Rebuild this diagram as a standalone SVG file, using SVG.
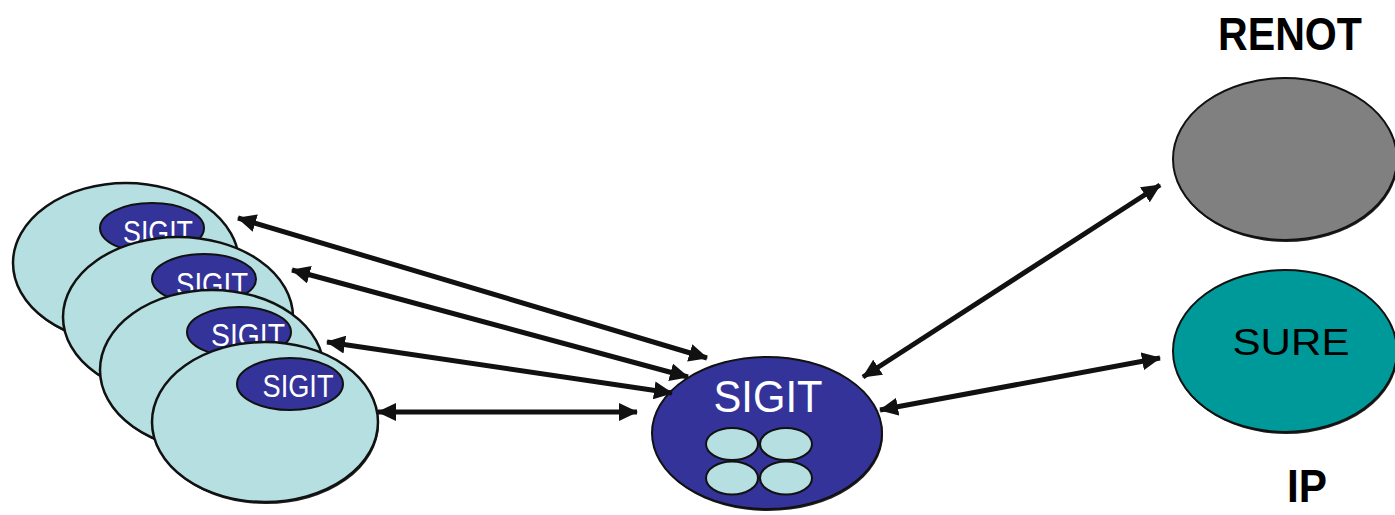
<svg xmlns="http://www.w3.org/2000/svg" width="1395" height="515" viewBox="0 0 1395 515">
<style>
.big{fill:#b5dfe0;stroke:#111;stroke-width:2.5}
.sig{fill:#333399;stroke:#111;stroke-width:2}
.mini{fill:#b5dfe0;stroke:#111;stroke-width:2}
.shadow{fill:#222}
.wt{fill:#fff;font-family:"Liberation Sans",Arial,sans-serif;text-anchor:middle}
.bt{fill:#000;font-family:"Liberation Sans",Arial,sans-serif;text-anchor:middle}
.conn line{stroke:#111;stroke-width:5;marker-start:url(#ah);marker-end:url(#ah)}
</style>
<defs>
<marker id="ah" markerUnits="userSpaceOnUse" markerWidth="20" markerHeight="18" refX="18" refY="9" orient="auto-start-reverse" viewBox="0 0 20 18">
<path d="M0,0 L19,9 L0,18 z" fill="#111"/>
</marker>
</defs>
<rect width="1395" height="515" fill="#fff"/>
<g id="node-left1">
<ellipse class="shadow" cx="127" cy="265" rx="113" ry="80"/>
<ellipse class="big" cx="126" cy="263" rx="113" ry="80"/>
<ellipse class="sig" cx="152" cy="228" rx="52" ry="25"/>
<text class="wt" x="158" y="243" font-size="31" textLength="70" lengthAdjust="spacingAndGlyphs">SIGIT</text>
</g>
<g id="node-left2">
<ellipse class="shadow" cx="179" cy="319" rx="115" ry="80"/>
<ellipse class="big" cx="178" cy="317" rx="115" ry="80"/>
<ellipse class="sig" cx="204" cy="279" rx="52" ry="25"/>
<text class="wt" x="212" y="295" font-size="31" textLength="72" lengthAdjust="spacingAndGlyphs">SIGIT</text>
</g>
<g id="node-left3">
<ellipse class="shadow" cx="213" cy="372" rx="112" ry="80"/>
<ellipse class="big" cx="212" cy="370" rx="112" ry="80"/>
<ellipse class="sig" cx="239" cy="332" rx="52" ry="25"/>
<text class="wt" x="248" y="346" font-size="31" textLength="74" lengthAdjust="spacingAndGlyphs">SIGIT</text>
</g>
<g id="node-left4">
<ellipse class="shadow" cx="266" cy="424" rx="113" ry="80"/>
<ellipse class="big" cx="265" cy="422" rx="113" ry="80"/>
<ellipse class="sig" cx="290" cy="384" rx="53" ry="26"/>
<text class="wt" x="298" y="397" font-size="31" textLength="71" lengthAdjust="spacingAndGlyphs">SIGIT</text>
</g>
<g id="node-center">
<ellipse class="shadow" cx="768" cy="435" rx="115" ry="76"/>
<ellipse class="sig" cx="767" cy="433" rx="115" ry="76"/>
<text class="wt" x="768" y="412" font-size="44" textLength="109" lengthAdjust="spacingAndGlyphs">SIGIT</text>
<ellipse class="mini" cx="732" cy="444" rx="26" ry="16"/>
<ellipse class="mini" cx="786" cy="444" rx="26" ry="16"/>
<ellipse class="mini" cx="732" cy="478" rx="26" ry="16.5"/>
<ellipse class="mini" cx="786" cy="478" rx="26" ry="16.5"/>
</g>
<g id="node-renot">
<text class="bt" x="1290" y="50" font-size="47" font-weight="bold" textLength="144" lengthAdjust="spacingAndGlyphs">RENOT</text>
<ellipse class="shadow" cx="1286" cy="161" rx="112" ry="81"/>
<ellipse cx="1285" cy="159" rx="112" ry="81" fill="#808080" stroke="#111" stroke-width="2"/>
</g>
<g id="node-sure">
<ellipse class="shadow" cx="1286" cy="353" rx="112" ry="81"/>
<ellipse cx="1285" cy="351" rx="112" ry="81" fill="#009999" stroke="#111" stroke-width="2"/>
<text class="bt" x="1291" y="355" font-size="37" textLength="117" lengthAdjust="spacingAndGlyphs">SURE</text>
<text class="bt" x="1307" y="502" font-size="47" font-weight="bold" textLength="40" lengthAdjust="spacingAndGlyphs">IP</text>
</g>
<g id="connectors" class="conn">
<line x1="238" y1="218" x2="707" y2="358"/>
<line x1="292" y1="270" x2="688" y2="377"/>
<line x1="327" y1="342" x2="672" y2="393"/>
<line x1="378" y1="412" x2="637" y2="412"/>
<line x1="863" y1="377" x2="1160" y2="185"/>
<line x1="880" y1="410" x2="1160" y2="358"/>
</g>
</svg>
